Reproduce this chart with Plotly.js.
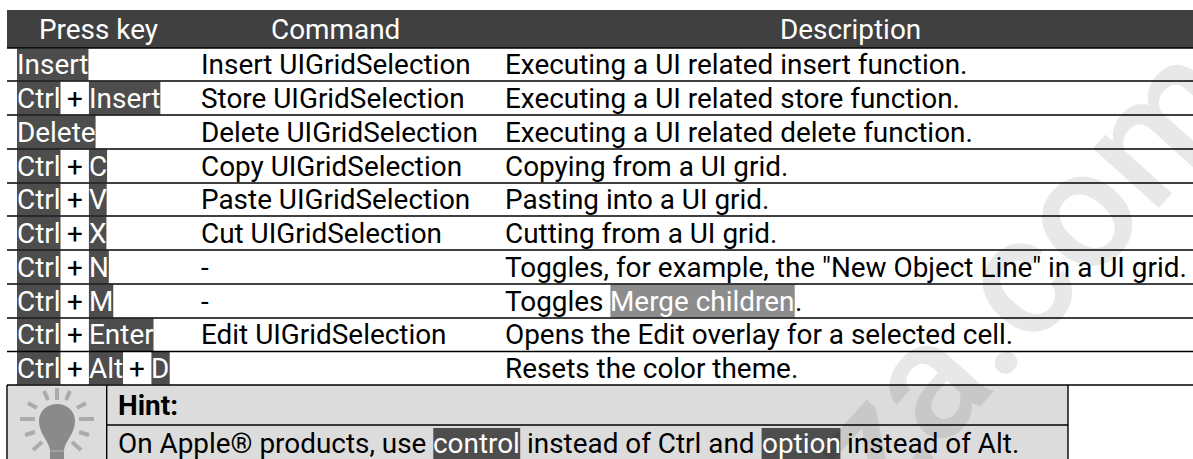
<!DOCTYPE html>
<html><head><meta charset="utf-8">
<script src="https://cdn.plot.ly/plotly-3.0.1.min.js"></script>
<style>html,body{margin:0;padding:0;background:#fff}</style></head>
<body><div id="c" style="width:1193px;height:459px"></div>
<script>
// ---- content ----
const headers = ["Press key","Command","Description"];
const pressKeys = [["Insert"],["Ctrl","Insert"],["Delete"],["Ctrl","C"],["Ctrl","V"],["Ctrl","X"],["Ctrl","N"],["Ctrl","M"],["Ctrl","Enter"],["Ctrl","Alt","D"]];
const commands = ["Insert UIGridSelection","Store UIGridSelection","Delete UIGridSelection","Copy UIGridSelection","Paste UIGridSelection","Cut UIGridSelection","-","-","Edit UIGridSelection",""];
const descriptions = ["Executing a UI related insert function.","Executing a UI related store function.","Executing a UI related delete function.","Copying from a UI grid.","Pasting into a UI grid.","Cutting from a UI grid.","Toggles, for example, the \"New Object Line\" in a UI grid.",null,"Opens the Edit overlay for a selected cell.","Resets the color theme."];
const hintTitle = "Hint:";
const watermark = "za.com";
// ---- layout ----
const W=1193,H=459,FONT="Roboto",FS=27.9,HFS=27.9;
const rowLines=[48,81,115,149,183,216,250,284,318,351.5,385];
const colText=[17,201,505];
const headerCx=[98.5,335,850];
const chipColor="#4d4d4d",headColor="#404040",hintColor="#dcdcdc";
const ctx=document.createElement("canvas").getContext("2d");
const tw=(s,w)=>{ctx.font=(w||"400")+" "+FS+"px "+FONT;return ctx.measureText(s).width;};
const shapes=[],ann=[];
const rect=(x0,y0,x1,y1,fill)=>shapes.push({type:"rect",xref:"x",yref:"y",x0,y0,x1,y1,fillcolor:fill,line:{width:0},layer:"above"});
const line=(x0,y0,x1,y1,c,w)=>shapes.push({type:"line",xref:"x",yref:"y",x0,y0,x1,y1,line:{color:c||"#000",width:w||1.4},layer:"above"});
const text=(x,y,t,o)=>{o=o||{};ann.push({xref:"x",yref:"y",x,y,text:t,showarrow:false,xanchor:o.anchor||"left",yanchor:"middle",borderpad:0,borderwidth:0,
  font:{family:FONT,size:o.size||FS,color:o.color||"#000",weight:o.weight||400}});};
// watermark goes first so that the text stays above it
ann.push({xref:"x",yref:"y",x:1022,y:273,text:watermark,showarrow:false,textangle:-48,xanchor:"center",yanchor:"middle",borderpad:0,borderwidth:0,
  font:{family:FONT,size:168,color:"rgba(0,0,0,0.09)",weight:500}});
// header
rect(7,10,W,48,headColor);
headers.forEach((h,i)=>text(headerCx[i],29,h,{anchor:"middle",color:"#fff",size:HFS}));
// rows
pressKeys.forEach((keys,r)=>{
  const top=rowLines[r],bot=rowLines[r+1],cy=(top+bot)/2;
  let x=colText[0];
  keys.forEach((k,i)=>{
    const w=tw(k);
    rect(x,top+0.5,x+w,bot-0.5,chipColor);
    text(x,cy,k,{color:"#fff"});
    x+=w;
    if(i<keys.length-1){text(x+14.2,cy,"+",{anchor:"middle",weight:400});x+=28.4;}
  });
  if(commands[r]) text(colText[1],cy,commands[r]);
  if(descriptions[r]) text(colText[2],cy,descriptions[r]);
});
// inline reference in the Merge row
{const top=rowLines[7],bot=rowLines[8],cy=(top+bot)/2;
 const a="Toggles ",b="Merge children";const x0=colText[2]+tw(a),w=tw(b);
 text(colText[2],cy,"Toggles");rect(x0,top+0.5,x0+w,bot-0.5,"#8c8c8c");text(x0,cy,b,{color:"#fff"});text(x0+w,cy,".");}
// hint box
rect(7,385,1068,H+2,hintColor);
const hx=118,hy1=405,hy2=443.5;
text(hx,hy1,hintTitle,{weight:700});
{let x=hx;const parts=[["On Apple® products, use ",0],["control",1],[" instead of Ctrl and ",0],["option",1],[" instead of Alt.",0]];
 parts.forEach(([t,chip])=>{const w=tw(t);if(chip){rect(x,428,x+w,H+2,chipColor);}
   text(x+(t.startsWith(" ")?tw(" "):0),hy2,t.trim(),{color:chip?"#fff":"#000"});x+=w;});}
// rules
rowLines.forEach((y,i)=>{line(7,y,W,y);});
line(7,385,7,H+2);line(1068,385,1068,H+2);line(106.7,385,106.7,H+2);line(106.7,425,1068,425);
// bulb icon
const ray="rgba(140,140,140,0.62)";
[[57,388,57,400],[44,391,48,400],[28,403,37,408],[20,419,35,419],[25,435,35,432],[33,450,42,442]].forEach(([a,b,c,d])=>{
  shapes.push({type:"line",xref:"x",yref:"y",x0:a,y0:b,x1:c,y1:d,line:{color:ray,width:4},layer:"above"});
  if(a!==57) shapes.push({type:"line",xref:"x",yref:"y",x0:114-a,y0:b,x1:114-c,y1:d,line:{color:ray,width:4},layer:"above"});
});
shapes.push({type:"path",xref:"x",yref:"y",path:"M 50 459 L 50 450 C 49 441 39 434 39 421 C 39 411 47 404 57 404 C 67 404 75 411 75 421 C 75 434 65 441 64 450 L 64 459 Z",fillcolor:"#8a8a8a",line:{width:0},layer:"above"});
line(50,451,64,451,"#b5b5b5",1);
Plotly.newPlot("c",[{type:"scatter",x:[],y:[],mode:"markers",hoverinfo:"skip"}],{
  width:W,height:H,margin:{l:0,r:0,t:0,b:0,pad:0},paper_bgcolor:"#fff",plot_bgcolor:"#fff",showlegend:false,
  xaxis:{range:[0,W],visible:false,fixedrange:true},yaxis:{range:[H,0],visible:false,fixedrange:true},shapes,annotations:ann
},{displayModeBar:false,staticPlot:true});
</script></body></html>
